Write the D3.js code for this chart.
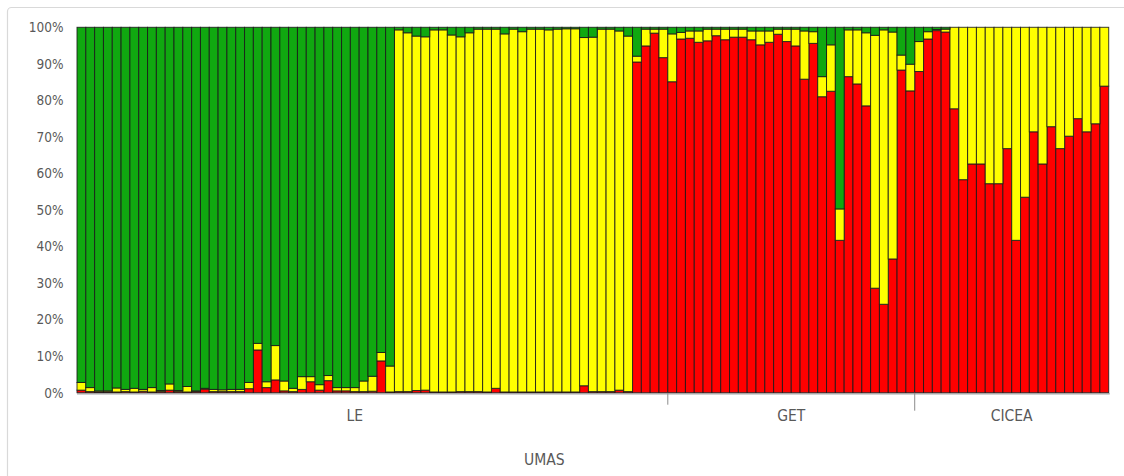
<!DOCTYPE html>
<html>
<head>
<meta charset="utf-8">
<script src="https://cdn.jsdelivr.net/npm/d3@7"></script>
<style>
  body { margin: 0; background: #fff; }
  svg { display: block; }
</style>
</head>
<body>
<svg id="chart" width="1124" height="476"></svg>
<script>
// share of each sample (bottom to top: red, yellow, green), 117 samples
var redPct = [
  0.7, 0.3, 0.2, 0.2, 0.2, 0.3, 0.2, 0.4, 0.2, 0.3, 0.7, 0.3, 0.2, 0.3, 1.0, 0.3, 0.3, 0.3, 0.3, 1.1,
  11.7, 1.4, 3.5, 0.5, 0.3, 0.9, 3.0, 0.7, 3.3, 0.5, 0.5, 0.3, 0.3, 0.4, 8.7, 0.2,
  0.3, 0.3, 0.6, 0.7, 0.2, 0.2, 0.2, 0.3, 0.3, 0.3, 0.2, 1.2, 0.2, 0.2, 0.2, 0.2, 0.2, 0.2, 0.2, 0.2,
  0.2, 1.9, 0.3, 0.3, 0.3, 0.7, 0.3,
  90.5, 94.9, 98.4, 91.7, 85.1, 96.8, 97.0, 95.9, 96.3, 97.7, 96.6, 97.3, 97.3, 96.6, 95.2, 95.9,
  98.1, 96.1, 94.9, 85.8, 95.6, 81.0, 82.5, 41.7, 86.5, 84.5, 78.5, 28.6, 24.2, 36.6, 88.3, 82.6,
  87.9, 96.8, 99.1, 98.7,
  77.7, 58.3, 62.6, 62.6, 57.2, 57.2, 66.8, 41.7, 53.5, 71.4, 62.6, 72.8, 66.8, 70.2, 75.0, 71.4,
  73.6, 83.9
];
var yellowPct = [
  2.1, 1.1, 0.3, 0.3, 1.1, 0.6, 1.0, 0.5, 1.2, 0.3, 1.7, 0.3, 1.5, 0.2, 0.2, 0.6, 0.5, 0.6, 0.6, 1.7,
  1.8, 1.6, 9.4, 2.7, 0.9, 3.5, 1.4, 1.5, 1.4, 0.9, 0.9, 1.1, 2.9, 4.1, 2.3, 7.1,
  99.0, 98.2, 97.0, 96.7, 99.1, 99.1, 97.7, 97.1, 98.2, 99.2, 99.3, 98.3, 98.0, 99.3, 98.6, 99.3,
  99.3, 99.1, 99.3, 99.4, 99.4, 95.3, 97.0, 99.2, 99.2, 98.3, 97.3,
  1.6, 4.6, 1.1, 7.8, 13.1, 1.8, 2.0, 3.1, 3.2, 1.8, 2.9, 2.2, 2.2, 2.4, 3.8, 3.1,
  1.4, 3.4, 4.6, 13.2, 3.2, 5.5, 12.7, 8.6, 12.8, 14.8, 20.0, 69.2, 75.1, 62.1, 4.1, 7.3,
  8.2, 2.0, 0.3, 0.8,
  22.3, 41.7, 37.4, 37.4, 42.8, 42.8, 33.2, 58.3, 46.5, 28.6, 37.4, 27.2, 33.2, 29.8, 25.0, 28.6,
  26.4, 16.1
];
var greenPct = [
  97.2, 98.6, 99.5, 99.5, 98.7, 99.1, 98.8, 99.1, 98.6, 99.4, 97.6, 99.4, 98.3, 99.5, 98.8, 99.1, 99.2, 99.1, 99.1, 97.2,
  86.5, 97.0, 87.1, 96.8, 98.8, 95.6, 95.6, 97.8, 95.3, 98.6, 98.6, 98.6, 96.8, 95.5, 89.0, 92.7,
  0.7, 1.5, 2.4, 2.6, 0.7, 0.7, 2.1, 2.6, 1.5, 0.5, 0.5, 0.5, 1.8, 0.5, 1.2, 0.5,
  0.5, 0.7, 0.5, 0.4, 0.4, 2.8, 2.7, 0.5, 0.5, 1.0, 2.4,
  7.9, 0.5, 0.5, 0.5, 1.8, 1.4, 1.0, 1.0, 0.5, 0.5, 0.5, 0.5, 0.5, 1.0, 1.0, 1.0,
  0.5, 0.5, 0.5, 1.0, 1.2, 13.5, 4.8, 49.7, 0.7, 0.7, 1.5, 2.2, 0.7, 1.3, 7.6, 10.1,
  3.9, 1.2, 0.6, 0.5,
  0, 0, 0, 0, 0, 0, 0, 0, 0, 0, 0, 0, 0, 0, 0, 0,
  0, 0
];
var seriesKeys = ["red", "yellow", "green"];
var seriesColors = ["#ff0000", "#ffff00", "#10a810"];
var yTicks = [0, 10, 20, 30, 40, 50, 60, 70, 80, 90, 100];

// category axis groups (sample numbers, 1-based)
var groups = [
  { name: "LE", first: 1, last: 63 },
  { name: "GET", first: 68, last: 95 },
  { name: "CICEA", first: 96, last: 117 }
];
var parentGroups = [{ name: "UMAS", first: 1, last: 106 }];
var groupBreaks = [67, 95];

var svg = d3.select("#chart");
var W = 1124, H = 476;
var margin = { top: 27.3, right: 15.3, bottom: 83.3, left: 77 };

// outer frame (only the top and left edges are in view)
svg.append("rect")
  .attr("x", 7.5).attr("y", 7.5)
  .attr("width", 1140).attr("height", 490)
  .attr("rx", 4)
  .attr("fill", "#fff")
  .attr("stroke", "#d9d9d9")
  .attr("stroke-width", 1.2);

var rows = redPct.map(function (r, i) {
  return { id: i + 1, red: r, yellow: yellowPct[i], green: greenPct[i] };
});

var x = d3.scaleBand()
  .domain(rows.map(function (d) { return d.id; }))
  .range([margin.left, W - margin.right])
  .padding(0);

var y = d3.scaleLinear()
  .domain([0, 1])
  .range([H - margin.bottom, margin.top]);

var stacked = d3.stack()
  .keys(seriesKeys)
  .offset(d3.stackOffsetExpand)(rows);

var color = d3.scaleOrdinal().domain(seriesKeys).range(seriesColors);

var layers = svg.append("g").attr("class", "bars")
  .selectAll("g")
  .data(stacked)
  .enter().append("g")
  .attr("fill", function (d) { return color(d.key); });

layers.selectAll("rect")
  .data(function (d) { return d; })
  .enter().append("rect")
  .attr("x", function (d) { return x(d.data.id); })
  .attr("width", x.bandwidth())
  .attr("y", function (d) { return y(d[1]); })
  .attr("height", function (d) { return y(d[0]) - y(d[1]); })
  .attr("stroke", "#1a1a1a")
  .attr("stroke-opacity", 0.85)
  .attr("stroke-width", 1);

// y axis labels
svg.append("g").attr("class", "y-labels")
  .selectAll("text")
  .data(yTicks)
  .enter().append("text")
  .attr("x", 63.5)
  .attr("y", function (d) { return y(d / 100); })
  .attr("dy", "0.36em")
  .attr("text-anchor", "end")
  .attr("fill", "#595959")
  .style("font-family", "'DejaVu Sans Condensed', 'DejaVu Sans', sans-serif")
  .style("font-size", "13.5px")
  .text(function (d) { return d + "%"; });

// category axis
var axisY = H - margin.bottom;
svg.append("line")
  .attr("x1", margin.left).attr("x2", W - margin.right + 1)
  .attr("y1", axisY + 1).attr("y2", axisY + 1)
  .attr("stroke", "#a6a6a6")
  .attr("stroke-width", 1.5);

svg.append("g").attr("class", "group-ticks")
  .selectAll("line")
  .data(groupBreaks)
  .enter().append("line")
  .attr("x1", function (d) { return x(d) + x.bandwidth(); })
  .attr("x2", function (d) { return x(d) + x.bandwidth(); })
  .attr("y1", axisY)
  .attr("y2", function (d, i) { return axisY + (i === 0 ? 12 : 18); })
  .attr("stroke", "#8c8c8c")
  .attr("stroke-width", 1);

var catFont = "'Liberation Sans Narrow', 'DejaVu Sans Condensed', sans-serif";

function groupCenter(g) {
  return (x(g.first) + x(g.last) + x.bandwidth()) / 2;
}

svg.append("g").attr("class", "group-labels")
  .selectAll("text")
  .data(groups)
  .enter().append("text")
  .attr("x", groupCenter)
  .attr("y", 421)
  .attr("text-anchor", "middle")
  .attr("fill", "#595959")
  .style("font-family", catFont)
  .style("font-size", "15.5px")
  .text(function (d) { return d.name; });

svg.append("g").attr("class", "parent-labels")
  .selectAll("text")
  .data(parentGroups)
  .enter().append("text")
  .attr("x", groupCenter)
  .attr("y", 465)
  .attr("text-anchor", "middle")
  .attr("fill", "#595959")
  .style("font-family", catFont)
  .style("font-size", "15.5px")
  .text(function (d) { return d.name; });
</script>
</body>
</html>
